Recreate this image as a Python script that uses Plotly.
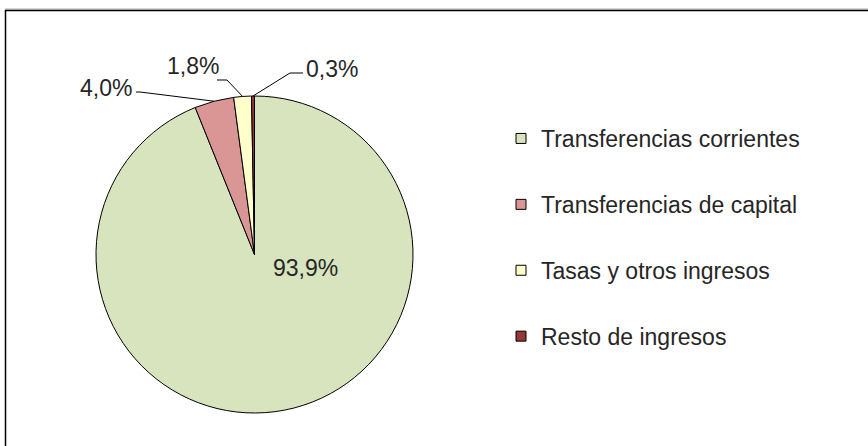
import math
import plotly.graph_objects as go

# ---- data ----
categories = ["Transferencias corrientes", "Transferencias de capital",
              "Tasas y otros ingresos", "Resto de ingresos"]
shares = [93.9, 4.0, 1.8, 0.3]
colors = ["#D7E4BD", "#D99694", "#FFFFCC", "#953735"]

# ---- layout / style ----
W, H = 868, 446
FONT = "Liberation Sans, Arial, sans-serif"
TXT = "#262626"
FS = 23
PIE_PX = dict(left=96, right=413, top=96, bottom=413)
dom_x = [PIE_PX["left"] / W, PIE_PX["right"] / W]
dom_y = [1 - PIE_PX["bottom"] / H, 1 - PIE_PX["top"] / H]
cx = (PIE_PX["left"] + PIE_PX["right"]) / 2
cy = (PIE_PX["top"] + PIE_PX["bottom"]) / 2
r = (PIE_PX["right"] - PIE_PX["left"]) / 2

# label placement (pixel positions of text, leader knees)
label_style = {
    0: dict(pos=(305, 268), knees=None),
    1: dict(pos=(106, 88), knees=[(140, 92), (136, 92)]),
    2: dict(pos=(193, 66), knees=[(227, 80), (217, 80)]),
    3: dict(pos=(332, 69), knees=[(290, 73), (303, 73)]),
}


def fmt(v):
    return f"{v:.1f}".replace(".", ",") + "%"


fig = go.Figure()
fig.add_trace(go.Pie(
    values=shares, labels=categories, sort=False, direction="clockwise",
    rotation=0, marker=dict(colors=colors, line=dict(color="#000000", width=1)),
    textinfo="none", showlegend=False, domain=dict(x=dom_x, y=dom_y),
    hovertemplate="%{label}: %{value:.1f}%<extra></extra>",
))

# legend entries
for i, (c, col) in enumerate(zip(categories, colors)):
    fig.add_trace(go.Scatter(
        x=[None], y=[None], mode="markers", name=c, legendgroup=f"g{i}",
        marker=dict(symbol="square", size=10, color=col,
                    line=dict(color="#000000", width=1)),
        hoverinfo="skip",
    ))

# labels + leader lines, computed from the data
total = sum(shares)
cum = 0.0
shapes = []
annotations = []
for i, v in enumerate(shares):
    mid = (cum + v / 2) / total * 2 * math.pi
    cum += v
    ex = cx + r * math.sin(mid)
    ey = cy - r * math.cos(mid)
    st = label_style[i]
    tx, ty = st["pos"]
    annotations.append(dict(x=tx, y=ty, xref="x", yref="y", text=fmt(v),
                            showarrow=False, xanchor="center", yanchor="middle",
                            font=dict(family=FONT, size=FS, color=TXT)))
    if st["knees"]:
        pts = [(ex, ey)] + st["knees"]
        path = "M " + " L ".join(f"{x},{y}" for x, y in pts)
        shapes.append(dict(type="path", path=path, xref="x", yref="y",
                           line=dict(color="#000000", width=1)))

# outer frame
shapes.append(dict(type="line", xref="x", yref="y", x0=5, y0=9, x1=W + 5, y1=9,
                   line=dict(color="#aaaaaa", width=1)))
shapes.append(dict(type="rect", xref="x", yref="y", x0=5.5, y0=10.5, x1=W + 5, y1=H + 5,
                   line=dict(color="#000000", width=1.5), fillcolor="rgba(0,0,0,0)"))

fig.update_layout(
    width=W, height=H, margin=dict(l=0, r=0, t=0, b=0),
    paper_bgcolor="white", plot_bgcolor="rgba(0,0,0,0)",
    xaxis=dict(range=[0, W], visible=False, domain=[0, 1], fixedrange=True),
    yaxis=dict(range=[H, 0], visible=False, domain=[0, 1], fixedrange=True),
    shapes=shapes, annotations=annotations,
    legend=dict(x=501 / W, y=1 - 117 / H, xanchor="left", yanchor="top",
                font=dict(family=FONT, size=FS, color=TXT),
                tracegroupgap=33, bgcolor="rgba(0,0,0,0)", itemclick=False),
)
fig.write_html("out.html", config={"displayModeBar": False},
               post_script="document.body.style.margin='0';")
